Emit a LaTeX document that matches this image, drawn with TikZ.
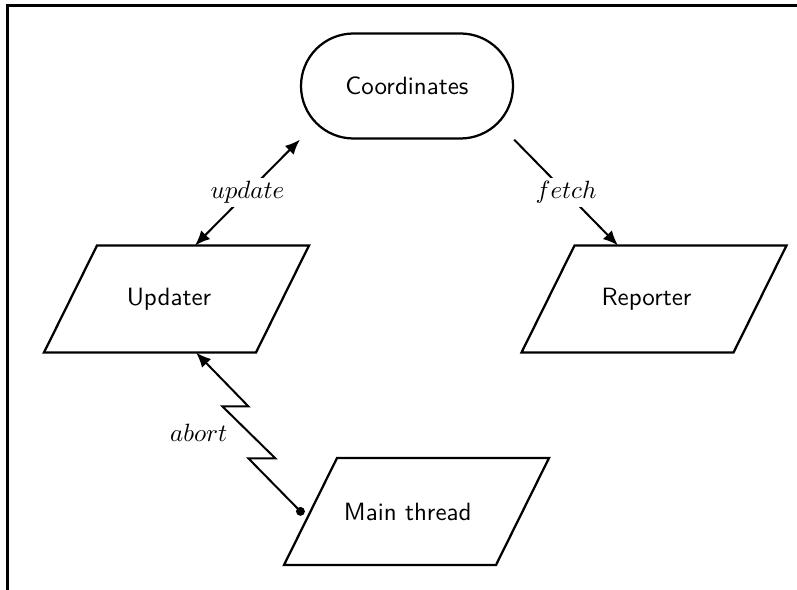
\documentclass[tikz,border=0pt]{standalone}
\usetikzlibrary{arrows.meta,calc}
\newcommand\parashape[1]{\draw[shapeline] ($(#1.north west)+(26.5,0)$) -- ($(#1.north east)+(26.5,0)$) -- ($(#1.south east)+(-26.5,0)$) -- ($(#1.south west)+(-26.5,0)$) -- cycle;}
\begin{document}
\begin{tikzpicture}[x=0.4pt,y=-0.4pt,
  shapeline/.style={line width=0.9pt, line join=miter},
  box/.style={font=\sffamily, draw, line width=0.9pt},
  iobox/.style={font=\sffamily, rectangle, minimum width=84.4pt, minimum height=42.4pt, inner sep=0pt},
  conn/.style={line width=0.8pt, -{Latex[length=6pt,width=5pt]}},
  lbl/.style={fill=white, inner sep=1.5pt}]
\useasboundingbox (0,0) rectangle (797,590);
\clip (0,0) rectangle (797,590);
\draw[line width=1.2pt] (7,600) |- (820,6);
\node[box, rectangle, rounded corners=21pt, minimum width=84.8pt, minimum height=42pt] (coord) at (407,86) {Coordinates};
\node[iobox] (upd) at (176.5,299) {Updater\hspace*{6pt}};
\node[iobox] (rep) at (654,299) {Reporter\hspace*{6pt}};
\node[iobox] (main) at (416.5,511.5) {Main thread\hspace*{7pt}};
\parashape{upd}
\parashape{rep}
\parashape{main}
\draw[conn, {Latex[length=6pt,width=5pt]}-{Latex[length=6pt,width=5pt]}] (coord.south west) -- node[lbl] {$update$} ($(upd.north)+(18.5,0)$);
\draw[conn] (coord.south east) -- node[lbl] {$fetch$} ($(rep.north)+(-36,0)$);
\draw[conn, {Circle[length=3.5pt]}-{Latex[length=6pt,width=5pt]}] ($(main.west)+(-7,3)$) -- ++(-55,-56) -- ++(27,0) -- node[left=5pt] {$abort$} ++(-53,-52) -- ++(26,0) -- ($(upd.south)+(19.5,0)$);
\end{tikzpicture}
\end{document}
